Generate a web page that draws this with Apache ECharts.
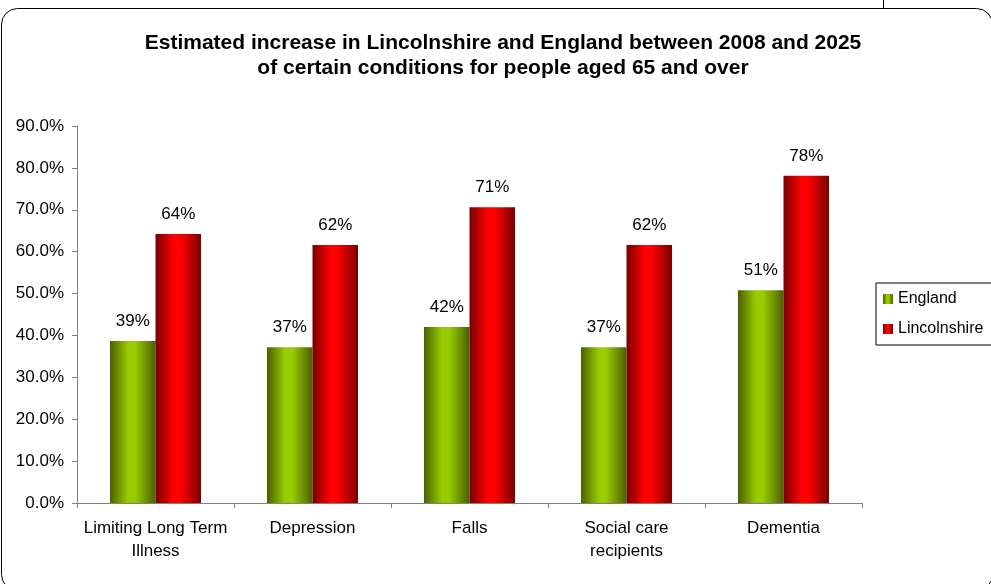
<!DOCTYPE html>
<html>
<head>
<meta charset="utf-8">
<script src="https://cdn.jsdelivr.net/npm/echarts@6/dist/echarts.min.js"></script>
<style>
html,body{margin:0;padding:0;background:#fff;}
#chart{width:991px;height:584px;}
</style>
</head>
<body>
<div id="chart"></div>
<script>
var categories = ['Limiting Long Term\nIllness', 'Depression', 'Falls', 'Social care\nrecipients', 'Dementia'];
var englandValues = [38.7, 37.2, 42.0, 37.2, 50.8];
var lincolnshireValues = [64.2, 61.6, 70.6, 61.6, 78.1];
var yTicks = { min: 0, max: 90, interval: 10 };
var titleText = 'Estimated increase in Lincolnshire and England between 2008 and 2025\nof certain conditions for people aged 65 and over';

var FONT = 'Liberation Sans, Arial, sans-serif';

function grad(dark, bright) {
  return new echarts.graphic.LinearGradient(0, 0, 1, 0, [
    { offset: 0, color: dark },
    { offset: 0.4, color: bright },
    { offset: 0.55, color: bright },
    { offset: 1, color: dark }
  ]);
}

var chart = echarts.init(document.getElementById('chart'), null, { renderer: 'canvas' });
var labelCfg = {
  show: true, position: 'top', distance: 11,
  fontFamily: FONT, fontSize: 17, color: '#000',
  formatter: function (p) { return Math.round(p.value) + '%'; }
};
chart.setOption({
  animation: false,
  backgroundColor: '#fff',
  graphic: [
    { type: 'rect', shape: { x: 1.5, y: 8.5, width: 991, height: 582, r: 16 },
      style: { fill: 'none', stroke: '#000', lineWidth: 1 }, silent: true },
    { type: 'line', shape: { x1: 883.5, y1: 0, x2: 883.5, y2: 8 },
      style: { stroke: '#000', lineWidth: 1 }, silent: true }
  ],
  title: {
    text: titleText,
    left: 498, textAlign: 'center', top: 26,
    textStyle: { fontFamily: FONT, fontSize: 21, fontWeight: 'bold', color: '#000', lineHeight: 25 }
  },
  legend: {
    orient: 'vertical',
    left: 876, top: 283,
    padding: [7, 12, 7, 7],
    itemWidth: 10, itemHeight: 10, itemGap: 12,
    icon: 'rect',
    borderColor: '#000', borderWidth: 1,
    textStyle: { fontFamily: FONT, fontSize: 16, color: '#000', lineHeight: 18 },
    data: ['England', 'Lincolnshire']
  },
  grid: { left: 77, right: 129, top: 126, bottom: 81 },
  xAxis: {
    type: 'category',
    data: categories,
    axisLine: { lineStyle: { color: '#808080', width: 1 } },
    axisTick: { show: true, length: 5, lineStyle: { color: '#808080' } },
    axisLabel: { fontFamily: FONT, fontSize: 17, color: '#000', margin: 14, lineHeight: 23, interval: 0 }
  },
  yAxis: {
    type: 'value',
    min: yTicks.min, max: yTicks.max, interval: yTicks.interval,
    axisLine: { show: true, lineStyle: { color: '#808080', width: 1 } },
    axisTick: { show: true, length: 5, lineStyle: { color: '#808080' } },
    splitLine: { show: false },
    axisLabel: { fontFamily: FONT, fontSize: 17, color: '#000', margin: 13,
      formatter: function (v) { return v.toFixed(1) + '%'; } }
  },
  series: [
    { name: 'England', type: 'bar', data: englandValues, barGap: '0%', barCategoryGap: '42%',
      itemStyle: { color: grad('#4a6000', '#99cc00') }, label: labelCfg },
    { name: 'Lincolnshire', type: 'bar', data: lincolnshireValues, barGap: '0%', barCategoryGap: '42%',
      itemStyle: { color: grad('#780000', '#ff0000') }, label: labelCfg }
  ]
});
</script>
</body>
</html>
